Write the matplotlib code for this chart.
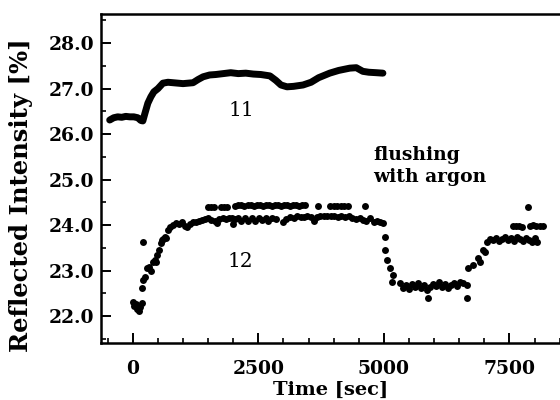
import matplotlib
matplotlib.use("Agg")
import matplotlib.pyplot as plt
from matplotlib.ticker import MultipleLocator, FixedLocator

# ---- data ----
s11_time = [-460, -380, -300, -220, -140, -60, 20, 100, 160, 200, 240, 300, 360, 420,
            500, 600, 700, 800, 900, 1000, 1100, 1200, 1300, 1400, 1530, 1650, 1800,
            1950, 2100, 2250, 2400, 2550, 2730, 2850, 2950, 3070, 3200, 3390, 3550,
            3700, 3920, 4100, 4320, 4450, 4580, 4700, 4850, 4980]
s11_refl = [26.31, 26.36, 26.38, 26.37, 26.39, 26.38, 26.38, 26.36, 26.30, 26.29,
            26.45, 26.68, 26.82, 26.93, 27.00, 27.12, 27.14, 27.13, 27.12, 27.11,
            27.12, 27.13, 27.20, 27.26, 27.30, 27.31, 27.33, 27.35, 27.33, 27.34,
            27.32, 27.31, 27.28, 27.18, 27.08, 27.04, 27.05, 27.08, 27.14, 27.24,
            27.34, 27.40, 27.45, 27.46, 27.38, 27.36, 27.35, 27.34]

s12_time = [0, 30, 60, 90, 120, 150, 175, 180, 199, 199, 250, 290, 330, 360, 400, 438,
            470, 490, 520, 560, 580, 610, 640, 670, 700, 740, 800, 860, 920, 980, 1040,
            1080, 1140, 1200, 1260, 1320, 1380, 1440, 1500, 1560, 1640, 1680, 1720,
            1800, 1860, 1920, 1980, 1990,
            2040, 2100, 2160, 2240, 2300, 2380, 2440, 2520, 2580, 2650, 2700, 2780,
            2850, 3000, 3060, 3130, 3200, 3270, 3340, 3400, 3470, 3540, 3610, 3660,
            3730, 3800, 3870, 3940, 4010, 4080, 4150, 4220, 4300, 4370, 4440, 4520,
            4580, 4650, 4720, 4800, 4860, 4920, 4980,
            1500, 1560, 1620, 1760, 1820, 1870, 2040, 2100, 2160, 2220, 2290, 2350,
            2410, 2470, 2530, 2590, 2650, 2710, 2770, 2830, 2890, 2950, 3010, 3070,
            3130, 3190, 3250, 3310, 3370, 3430, 3685, 3930, 4000, 4070, 4140, 4210,
            4280, 4620,
            5020, 5020, 5060, 5120, 5160, 5180, 5320, 5380, 5440, 5500, 5560, 5620,
            5680, 5740, 5800, 5860, 5880, 5920, 5980, 6040, 6100, 6160, 6220, 6280,
            6340, 6400, 6460, 6520, 6580, 6650, 6650, 6673, 6773, 6873, 6913, 6972,
            7010, 7052,
            7110, 7170, 7230, 7290, 7350, 7410, 7470, 7530, 7590, 7650, 7710, 7770,
            7830, 7890, 7950, 8000, 8050,
            7570, 7630, 7690, 7750, 7900, 7960, 8020, 8100, 8160, 7870]
s12_refl = [22.31, 22.22, 22.27, 22.16, 22.12, 22.20, 22.28, 22.62, 22.79, 23.63,
            22.86, 23.05, 23.08, 23.00, 23.19, 23.23, 23.20, 23.35, 23.45, 23.60,
            23.67, 23.70, 23.74, 23.72, 23.90, 23.95, 24.00, 24.05, 24.02, 24.06,
            23.98, 23.96, 24.03, 24.07, 24.06, 24.10, 24.12, 24.13, 24.15, 24.12,
            24.10, 24.05, 24.13, 24.15, 24.13, 24.15, 24.15, 24.02,
            24.14, 24.16, 24.10, 24.15, 24.09, 24.16, 24.10, 24.16, 24.12, 24.16,
            24.10, 24.15, 24.14, 24.08, 24.14, 24.17, 24.15, 24.19, 24.18, 24.18,
            24.20, 24.17, 24.10, 24.17, 24.20, 24.21, 24.21, 24.21, 24.20, 24.18,
            24.20, 24.17, 24.19, 24.16, 24.14, 24.16, 24.12, 24.10, 24.15, 24.08,
            24.10, 24.06, 24.04,
            24.40, 24.40, 24.40, 24.40, 24.40, 24.40, 24.43, 24.44, 24.44, 24.43,
            24.44, 24.44, 24.43, 24.44, 24.44, 24.43, 24.44, 24.44, 24.43, 24.44,
            24.44, 24.43, 24.44, 24.44, 24.43, 24.44, 24.44, 24.43, 24.44, 24.44,
            24.42, 24.42, 24.42, 24.42, 24.42, 24.42, 24.42, 24.42,
            23.74, 23.45, 23.23, 23.05, 22.75, 22.90, 22.73, 22.62, 22.68, 22.60,
            22.70, 22.64, 22.72, 22.62, 22.68, 22.58, 22.40, 22.64, 22.70, 22.66,
            22.74, 22.64, 22.70, 22.62, 22.68, 22.72, 22.66, 22.74, 22.72, 22.68,
            22.40, 23.05, 23.12, 23.27, 23.20, 23.45, 23.40, 23.63,
            23.70, 23.68, 23.72, 23.66, 23.70, 23.74, 23.68, 23.72, 23.66, 23.73,
            23.70, 23.66, 23.72, 23.68, 23.63, 23.72, 23.62,
            23.98, 23.98, 23.98, 23.97, 23.98, 24.00, 23.98, 23.98, 23.98, 24.40]

x_ticks = [0, 2500, 5000, 7500]
y_ticks = [22.0, 23.0, 24.0, 25.0, 26.0, 27.0, 28.0]
curve_labels = ["11", "12"]
annotation = "flushing\nwith argon"

# ---- figure ----
fig = plt.figure(figsize=(5.6, 4.0), dpi=100)
ax = fig.add_axes([0.180, 0.1425, 0.82, 0.8225])

ax.plot(s11_time, s11_refl, color="black", lw=5.0, solid_capstyle="round",
        solid_joinstyle="round")
ax.plot(s12_time, s12_refl, linestyle="none", marker="o", ms=5.0, color="black",
        markeredgewidth=0)

ax.set_xlim(-637, 8506)
ax.set_ylim(21.41, 28.64)

serif = "DejaVu Serif"
ax.xaxis.set_major_locator(FixedLocator(x_ticks))
ax.xaxis.set_minor_locator(MultipleLocator(500))
ax.yaxis.set_major_locator(FixedLocator(y_ticks))
ax.yaxis.set_minor_locator(MultipleLocator(0.5))
ax.set_xticklabels([str(v) for v in x_ticks], fontfamily=serif, fontweight="bold",
                   fontsize=13.5)
ax.set_yticklabels([f"{v:.1f}" for v in y_ticks], fontfamily=serif, fontweight="bold",
                   fontsize=13.5)
ax.tick_params(which="major", direction="in", length=7, width=1.4)
ax.tick_params(axis="x", which="major", pad=12)
ax.tick_params(axis="y", which="major", pad=5)
ax.tick_params(which="minor", direction="in", length=3.5, width=1.2)

for side in ("left", "bottom", "top"):
    ax.spines[side].set_linewidth(1.8)
ax.spines["right"].set_visible(False)

ax.set_xlabel("Time [sec]", fontfamily=serif, fontweight="bold", fontsize=14,
              labelpad=2)
ax.set_ylabel("Reflected Intensity [%]", fontfamily=serif, fontweight="bold",
              fontsize=17.5)
ax.yaxis.set_label_coords(-0.148, 0.45)

ax.text(2170, 26.53, curve_labels[0], fontfamily=serif, fontsize=14.5,
        ha="center", va="center")
ax.text(2150, 23.21, curve_labels[1], fontfamily=serif, fontsize=14.5,
        ha="center", va="center")
ax.text(4781, 25.30, annotation, fontfamily=serif, fontweight="bold", fontsize=13.5,
        ha="left", va="center", linespacing=1.25)

fig.savefig("out.png", dpi=100)
